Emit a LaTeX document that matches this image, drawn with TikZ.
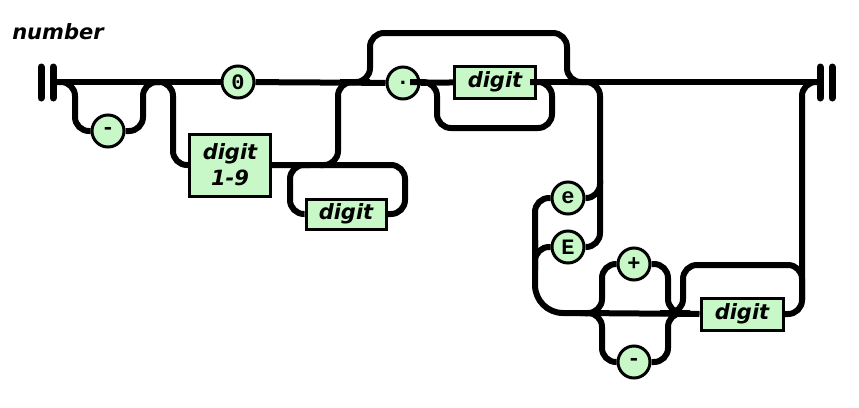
\documentclass[tikz,border=0pt]{standalone}
\usepackage{fontspec}
\newfontfamily\railsans{DejaVu Sans}
\newfontfamily\railmono{Liberation Mono}
\definecolor{railfill}{RGB}{200,248,200}
\begin{document}
\begin{tikzpicture}[x=1pt,y=-1pt,
  rail/.style={line width=6pt, rounded corners=14pt},
  bigrail/.style={line width=6pt, rounded corners=28pt},
  term/.style={circle, draw, line width=3pt, fill=railfill, minimum size=32pt, inner sep=0pt,
    font=\railmono\bfseries\fontsize{22}{22}\selectfont},
  nonterm/.style={rectangle, draw, line width=3pt, fill=railfill, inner sep=0pt, align=center,
    font=\railsans\bfseries\itshape\fontsize{21}{26}\selectfont},
  bar/.style={line width=7pt, line cap=round},
  title/.style={font=\railsans\bfseries\itshape\fontsize{21}{23}\selectfont}]
\useasboundingbox (0,0) rectangle (859,407);

% title
\node[title] (ttl) at (58,32) {number};

% end bars
\draw[bar] (41,67) -- (41,98);
\draw[bar] (53,67) -- (53,98);
\draw[bar] (820,67) -- (820,98);
\draw[bar] (832,67) -- (832,98);
\coordinate (Lend) at (53,82);
\coordinate (Rend) at (820,82);

% nodes
\node[term] (zero) at (238,82) {0};
\node[term] (minusA) at (108,131) {-};
\node[nonterm, minimum width=81pt, minimum height=62pt] (d19) at (230,165) {digit\\1-9};
\node[nonterm, minimum width=80pt, minimum height=30pt] (digA) at (346,214) {digit};
\node[term] (dot) at (403,83) {.};
\node[nonterm, minimum width=81pt, minimum height=32pt] (digB) at (495,82) {digit};
\node[term] (e) at (568,198) {e};
\node[term] (E) at (568,247) {E};
\node[term] (plus) at (634,264) {+};
\node[term] (minusB) at (634,362) {-};
\node[nonterm, minimum width=82pt, minimum height=32pt] (digC) at (742,314) {digit};

% main line
\draw[rail] (Lend) -- (zero);
\draw[rail] (zero) -- (dot);
\draw[rail] (dot) -- (digB);
\draw[rail] (digB) -- (Rend);

% optional minus
\draw[rail] (Lend) -| (75,131) -- (minusA.west);
\draw[rail] (minusA.east) -| (143,82) -- (160,82);

% digit 1-9 branch
\draw[rail] (143,82) -| (173,165) -- (d19.west);
\draw[rail] (d19.east) -| (338,82) -- (370,82);

% digit loop below 1-9
\draw[rail] (310,165) -| (290,214) -- (digA.west);
\draw[rail] (digA.east) -| (405,165) -- (320,165);

% fraction bypass above
\draw[rail] (340,82) -| (370,33) -| (567,82) -- (600,82);

% digit loop below fraction digit
\draw[rail] (410,82) -| (437,128) -| (552,82) -- (530,82);

% exponent
\draw[rail] (570,82) -| (600,247) -- (E.east);
\draw[rail] (e.east) -| (600,180);
\draw[rail] (e.west) -| (535,250);
\draw[rail] (E.west) -| (535,270);
\draw[bigrail] (535,240) |- (600,313);
\draw[rail] (580,313) -- (digC.west);

% sign
\draw[rail] (585,313) -| (602,264) -- (plus.west);
\draw[rail] (plus.east) -| (668,313) -- (690,313);
\draw[rail] (585,313) -| (602,362) -- (minusB.west);
\draw[rail] (minusB.east) -| (668,313) -- (690,313);

% exponent digits and loop
\draw[rail] (digC.east) -| (802,82) -- (Rend);
\draw[rail] (660,313) -| (683,265) -| (802,300);
\end{tikzpicture}
\end{document}
